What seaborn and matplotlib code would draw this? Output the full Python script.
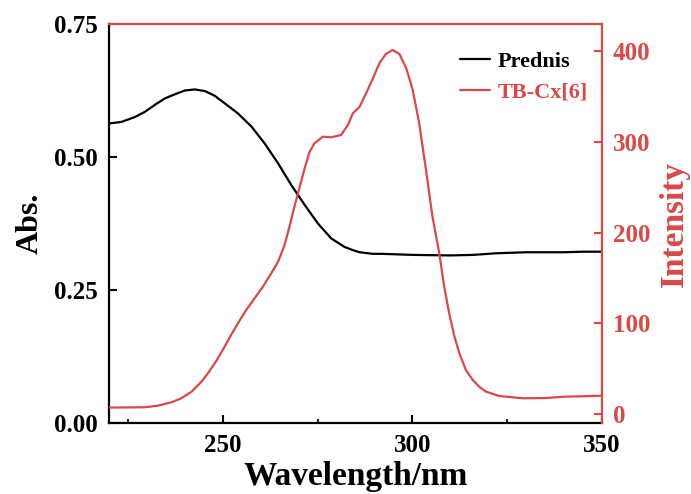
import matplotlib
matplotlib.use("Agg")
import matplotlib.pyplot as plt
from matplotlib.ticker import MultipleLocator, FormatStrFormatter
from matplotlib.lines import Line2D
import seaborn as sns
import pandas as pd

# Absorbance spectrum of prednisolone
abs_wavelength = [220.0, 223.3, 226.8, 229.5, 232.1, 234.7, 237.4, 240.0, 242.6,
                  245.3, 247.9, 250.5, 254.0, 257.6, 261.0, 264.6, 268.1, 271.6,
                  275.1, 278.6, 282.1, 284.3, 286.1, 289.6, 292.0, 300.0, 310.0,
                  316.0, 322.0, 330.0, 340.0, 345.0, 350.0]
abs_values = [0.563, 0.566, 0.575, 0.585, 0.598, 0.610, 0.618, 0.625, 0.627,
              0.624, 0.615, 0.601, 0.582, 0.557, 0.526, 0.488, 0.447, 0.410,
              0.375, 0.347, 0.331, 0.325, 0.321, 0.318, 0.318, 0.316, 0.315,
              0.316, 0.319, 0.321, 0.321, 0.322, 0.322]

# Fluorescence emission of TB-Cx[6]
fl_wavelength = [220.0, 229.5, 233.0, 236.5, 239.1, 241.8, 244.4, 246.1, 248.3,
                 250.5, 252.2, 254.0, 256.2, 258.4, 260.6, 262.8, 264.6, 266.3,
                 267.6, 268.9, 270.3, 271.6, 272.9, 274.2, 276.4, 278.6, 281.2,
                 283.0, 284.3, 286.1, 287.8, 289.6, 291.3, 293.0, 294.8, 296.6,
                 298.4, 300.1, 301.8, 303.6, 305.3, 307.1, 308.4, 309.7, 311.1,
                 312.4, 314.1, 315.9, 317.6, 319.4, 322.9, 329.0, 335.0, 340.4,
                 345.0, 350.0]
fl_values = [7.0, 7.4, 9.2, 12.9, 17.3, 24.6, 35.6, 44.9, 58.4, 74.2, 87.1, 100.0,
             114.7, 127.6, 140.4, 155.1, 167.9, 186.3, 206.5, 228.6, 250.6, 270.9,
             289.2, 298.5, 305.7, 305.1, 307.6, 318.6, 331.5, 338.8, 353.6, 370.0,
             386.7, 396.9, 401.3, 396.9, 381.1, 357.2, 320.5, 269.0, 217.5, 177.2,
             140.4, 111.0, 85.2, 66.9, 48.5, 37.5, 30.1, 24.6, 19.8, 17.3, 17.5,
             19.1, 19.5, 20.2]

RED = "#DA4848"

sns.set_theme(style="ticks")
plt.rcParams["font.family"] = ["Liberation Serif", "DejaVu Serif"]
plt.rcParams["font.weight"] = "bold"
plt.rcParams["text.color"] = "black"
plt.rcParams["axes.labelcolor"] = "black"

fig = plt.figure(figsize=(6.91, 4.94), dpi=100)
ax = fig.add_axes([0.1577, 0.1437, 0.7135, 0.8077])
ax2 = ax.twinx()

df_abs = pd.DataFrame({"wl": abs_wavelength, "v": abs_values})
df_fl = pd.DataFrame({"wl": fl_wavelength, "v": fl_values})

sns.lineplot(data=df_abs, x="wl", y="v", ax=ax, color="black", linewidth=1.6)
sns.lineplot(data=df_fl, x="wl", y="v", ax=ax2, color=RED, linewidth=1.6)

ax.set_xlim(220, 350)
ax.set_ylim(0, 0.75)
ax2.set_ylim(-10, 430)

ax.xaxis.set_major_locator(MultipleLocator(50))
ax.xaxis.set_minor_locator(MultipleLocator(25))
ax.yaxis.set_major_locator(MultipleLocator(0.25))
ax.yaxis.set_major_formatter(FormatStrFormatter("%.2f"))
ax2.yaxis.set_major_locator(MultipleLocator(100))

ax.tick_params(axis="both", which="major", direction="in", length=6, width=1.5,
               labelsize=18, colors="black", pad=8)
ax.tick_params(axis="x", which="minor", direction="in", length=3, width=1.5)
ax2.tick_params(axis="y", which="major", direction="in", length=6, width=1.5,
                labelsize=18, colors=RED, pad=8)

for lbl in ax.get_xticklabels() + ax.get_yticklabels() + ax2.get_yticklabels():
    lbl.set_fontweight("bold")

for side in ["left", "bottom"]:
    ax.spines[side].set_color("black")
    ax.spines[side].set_linewidth(1.6)
ax.spines["top"].set_visible(False)
ax.spines["right"].set_visible(False)
ax2.spines["left"].set_visible(False)
ax2.spines["bottom"].set_visible(False)
for side in ["top", "right"]:
    ax2.spines[side].set_color(RED)
    ax2.spines[side].set_linewidth(1.6)

ax.set_xlabel("Wavelength/nm", fontsize=24, fontweight="bold", labelpad=3)
ax.set_ylabel("Abs.", fontsize=23, fontweight="bold", labelpad=7)
ax2.set_ylabel("Intensity", fontsize=24, fontweight="bold", color=RED, labelpad=6)

handles = [Line2D([], [], color="black", linewidth=1.6),
           Line2D([], [], color=RED, linewidth=1.6)]
leg = fig.legend(handles, ["Prednis", "TB-Cx[6]"], loc="upper right",
                 bbox_to_anchor=(588 / 691, 1 - 51 / 494), frameon=False,
                 borderpad=0, borderaxespad=0, handlelength=1.35,
                 handletextpad=0.35, labelspacing=0.48,
                 prop={"family": "Liberation Serif", "weight": "bold", "size": 16})
leg.get_texts()[1].set_color(RED)

fig.savefig("out.png", dpi=100)
